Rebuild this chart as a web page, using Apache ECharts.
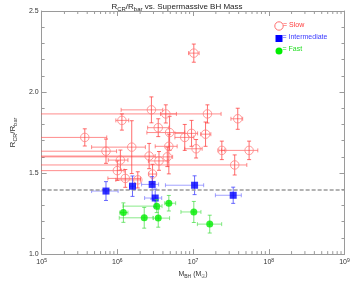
<!DOCTYPE html>
<html><head><meta charset="utf-8">
<script src="https://cdn.jsdelivr.net/npm/echarts@6/dist/echarts.min.js"></script>
<style>html,body{margin:0;padding:0;background:#fff}#c{width:354px;height:284px}</style>
</head><body><div id="c"></div>
<script>
// ---- Data (log10 M_BH in solar masses, R_CR/R_bar) ----
// Slow bars
const slowLogM  = [7.01, 6.45, 6.64, 7.19, 6.06, 7.59, 5.57, 6.54, 6.69, 6.98, 6.89, 7.165, 7.04, 6.68, 6.66, 6.55, 6.42, 7.38, 7.74, 7.55, 6.19, 5.85, 6.04, 6.00, 6.105, 6.27, 6.465];
const slowR     = [2.24, 1.89, 1.865, 1.865, 1.825, 1.835, 1.72, 1.78, 1.75, 1.745, 1.72, 1.74, 1.65, 1.665, 1.60, 1.575, 1.605, 1.64, 1.64, 1.55, 1.66, 1.635, 1.58, 1.515, 1.467, 1.458, 1.494];
const slowMLo   = [0.07, 0.40, 0.07, 3.0, 0.08, 0.09, 3.0, 0.14, 0.30, 0.22, 0.13, 0.065, 0.15, 0.18, 3.0, 0.14, 3.0, 0.04, 0.365, 3.0, 0.53, 3.0, 0.16, 3.0, 0.23, 0.29, 0.05];
const slowMHi   = [0.07, 0.15, 0.14, 0.18, 0.09, 0.065, 0.29, 0.14, 0.20, 0.08, 0.12, 0.07, 0.08, 0.11, 0.07, 0.12, 0.08, 0.04, 0.115, 0.16, 0.18, 0.14, 0.10, 0.09, 0.20, 0.035, 0.05];
const slowRLo   = [0.056, 0.08, 0.056, 0.056, 0.06, 0.065, 0.053, 0.055, 0.11, 0.08, 0.08, 0.075, 0.057, 0.17, 0.06, 0.058, 0.078, 0.057, 0.057, 0.062, 0.163, 0.075, 0.062, 0.06, 0.055, 0.05, 0.06];
const slowRHi   = [0.056, 0.08, 0.056, 0.056, 0.04, 0.065, 0.053, 0.055, 0.10, 0.08, 0.08, 0.075, 0.057, 0.075, 0.06, 0.058, 0.078, 0.057, 0.057, 0.062, 0.163, 0.075, 0.062, 0.06, 0.055, 0.05, 0.06];
// Intermediate bars
const interLogM = [5.85, 6.20, 6.46, 6.50, 7.02, 7.53];
const interR    = [1.389, 1.419, 1.43, 1.346, 1.425, 1.363];
const interMLo  = [0.19, 0.04, 0.14, 0.14, 0.385, 0.235];
const interMHi  = [0.16, 0.04, 0.085, 0.086, 0.12, 0.107];
const interRLo  = [0.058, 0.063, 0.09, 0.055, 0.058, 0.05];
const interRHi  = [0.058, 0.063, 0.048, 0.055, 0.058, 0.05];
// Fast bars
const fastLogM  = [6.08, 6.355, 6.52, 6.54, 6.68, 7.01, 7.22];
const fastR     = [1.256, 1.224, 1.296, 1.222, 1.314, 1.26, 1.185];
const fastMLo   = [0.05, 0.33, 0.445, 0.064, 0.055, 0.17, 0.163];
const fastMHi   = [0.06, 0.115, 0.07, 0.15, 0.09, 0.094, 0.158];
const fastRLo   = [0.06, 0.064, 0.04, 0.056, 0.048, 0.065, 0.055];
const fastRHi   = [0.06, 0.064, 0.04, 0.056, 0.048, 0.065, 0.055];
// Reference threshold
const thresholdR = 1.4;
// Axis ticks
const xDecades = [5, 6, 7, 8, 9];
const yTicks = [1.0, 1.5, 2.0, 2.5];

const FF = 'Liberation Sans, Arial, Helvetica, sans-serif';
const AX = '#9a9a9a';

function rows(m, r, mlo, mhi, rlo, rhi) {
  return m.map((v, i) => [v, r[i], mlo[i], mhi[i], rlo[i], rhi[i]]);
}
function errRender(colH, colV) {
  return function (params, api) {
    const L = api.value(0), R = api.value(1);
    const c = api.coord([L, R]);
    const xl = api.coord([L - api.value(2), R])[0];
    const xh = api.coord([L + api.value(3), R])[0];
    const yb = api.coord([L, R - api.value(4)])[1];
    const yt = api.coord([L, R + api.value(5)])[1];
    const cap = 2;
    const ln = (x1, y1, x2, y2, col) => ({ type: 'line', shape: { x1, y1, x2, y2 }, style: { stroke: col, lineWidth: 1 } });
    return { type: 'group', children: [
      ln(xl, c[1], xh, c[1], colH), ln(xl, c[1] - cap, xl, c[1] + cap, colH), ln(xh, c[1] - cap, xh, c[1] + cap, colH),
      ln(c[0], yt, c[0], yb, colV), ln(c[0] - cap, yt, c[0] + cap, yt, colV), ln(c[0] - cap, yb, c[0] + cap, yb, colV)
    ] };
  };
}
// minor log ticks positions (2..9 within each decade)
const minorX = [];
for (let i = 0; i < xDecades.length - 1; i++) for (let k = 2; k <= 9; k++) minorX.push([xDecades[i] + Math.log10(k)]);

const chart = echarts.init(document.getElementById('c'), null, { renderer: 'canvas' });
const subRich = { s: { fontSize: 6, verticalAlign: 'bottom', lineHeight: 6, fontFamily: FF, color: '#222' } };
chart.setOption({
  animation: false,
  backgroundColor: '#fff',
  title: {
    text: 'R{s|CR}/R{s|bar} vs. Supermassive BH Mass', left: 'center', top: -4,
    textStyle: { fontSize: 8, fontWeight: 'normal', color: '#222', fontFamily: FF, lineHeight: 11, rich: subRich }
  },
  grid: { left: 33.3, right: 9.5, top: 11, bottom: 25 },
  xAxis: [{
    type: 'value', min: 5, max: 9, interval: 1, position: 'bottom',
    axisLine: { show: true, onZero: false, lineStyle: { color: AX } },
    axisTick: { show: true, inside: true, length: 5, lineStyle: { color: AX } },
    splitLine: { show: false },
    axisLabel: { fontSize: 7, color: '#333', fontFamily: FF, margin: 4,
      formatter: v => '10{p|' + v + '}',
      rich: { p: { fontSize: 5, verticalAlign: 'top', lineHeight: 5, fontFamily: FF, color: '#333' } } },
    name: 'M{b|BH} (M{b|\u2609})', nameLocation: 'middle', nameGap: 14,
    nameTextStyle: { fontSize: 7, color: '#333', fontFamily: FF, lineHeight: 9,
      rich: { b: { fontSize: 5, verticalAlign: 'bottom', lineHeight: 5, fontFamily: FF, color: '#333' } } }
  }, {
    type: 'value', min: 5, max: 9, interval: 1, position: 'top',
    axisLine: { show: true, onZero: false, lineStyle: { color: AX } },
    axisTick: { show: true, inside: true, length: 5, lineStyle: { color: AX } },
    axisLabel: { show: false }, splitLine: { show: false }
  }],
  yAxis: [{
    type: 'value', min: 1, max: 2.5, interval: 0.5, position: 'left',
    axisLine: { show: true, onZero: false, lineStyle: { color: AX } },
    axisTick: { show: true, inside: true, length: 5, lineStyle: { color: AX } },
    minorTick: { show: true, splitNumber: 5, length: 3, lineStyle: { color: AX } },
    splitLine: { show: false },
    axisLabel: { fontSize: 7, color: '#333', fontFamily: FF, margin: 3, formatter: v => v.toFixed(1) },
    name: 'R{s|CR}/R{s|bar}', nameLocation: 'middle', nameGap: 12,
    nameTextStyle: { fontSize: 8, color: '#333', fontFamily: FF, lineHeight: 10,
      rich: { s: { fontSize: 5.5, verticalAlign: 'bottom', lineHeight: 5, fontFamily: FF, color: '#333' } } }
  }, {
    type: 'value', min: 1, max: 2.5, interval: 0.5, position: 'right',
    axisLine: { show: true, onZero: false, lineStyle: { color: AX } },
    axisTick: { show: true, inside: true, length: 5, lineStyle: { color: AX } },
    minorTick: { show: true, splitNumber: 5, length: 3, lineStyle: { color: AX } },
    axisLabel: { show: false }, splitLine: { show: false }
  }],
  series: [
    { type: 'custom', name: 'minorTicks', silent: true, data: minorX, z: 1,
      renderItem: (params, api) => {
        const x = api.coord([api.value(0), 1])[0];
        const cs = params.coordSys;
        const st = { stroke: AX, lineWidth: 1 };
        return { type: 'group', children: [
          { type: 'line', shape: { x1: x, y1: cs.y + cs.height, x2: x, y2: cs.y + cs.height - 3 }, style: st },
          { type: 'line', shape: { x1: x, y1: cs.y, x2: x, y2: cs.y + 3 }, style: st }
        ] };
      } },
    { type: 'custom', name: 'slowErr', clip: true, silent: true, z: 2,
      data: rows(slowLogM, slowR, slowMLo, slowMHi, slowRLo, slowRHi),
      renderItem: errRender('rgba(255,80,80,0.65)', 'rgba(255,60,60,0.75)'),
      markLine: { silent: true, symbol: ['none', 'none'], label: { show: false },
        lineStyle: { color: '#9a9a9a', type: [4, 2], width: 1.5 }, data: [{ yAxis: thresholdR }] } },
    { type: 'scatter', name: 'Slow', z: 3, symbol: 'circle', symbolSize: 8.5,
      itemStyle: { color: 'rgba(0,0,0,0)', borderColor: '#ff8080', borderWidth: 1 },
      data: slowLogM.map((v, i) => [v, slowR[i]]) },
    { type: 'custom', name: 'interErr', clip: true, silent: true, z: 4,
      data: rows(interLogM, interR, interMLo, interMHi, interRLo, interRHi),
      renderItem: errRender('rgba(110,110,255,0.65)', 'rgba(70,70,255,0.8)') },
    { type: 'scatter', name: 'Intermediate', z: 5, symbol: 'rect', symbolSize: 7,
      itemStyle: { color: '#0000ff' }, data: interLogM.map((v, i) => [v, interR[i]]) },
    { type: 'custom', name: 'fastErr', clip: true, silent: true, z: 6,
      data: rows(fastLogM, fastR, fastMLo, fastMHi, fastRLo, fastRHi),
      renderItem: errRender('rgba(60,220,60,0.6)', 'rgba(60,220,60,0.7)') },
    { type: 'scatter', name: 'Fast', z: 7, symbol: 'circle', symbolSize: 7,
      itemStyle: { color: '#00ee00' }, data: fastLogM.map((v, i) => [v, fastR[i]]) }
  ],
  graphic: [
    { type: 'circle', shape: { cx: 279, cy: 26, r: 4.2 }, style: { fill: 'none', stroke: '#ff7070', lineWidth: 1 } },
    { type: 'text', x: 283, y: 25.5, style: { text: '= Slow', fill: '#ff3b3b', font: '7px ' + FF, verticalAlign: 'middle' } },
    { type: 'rect', shape: { x: 275.5, y: 35, width: 7, height: 7 }, style: { fill: '#0000ff' } },
    { type: 'text', x: 282.5, y: 37.5, style: { text: '= Intermediate', fill: '#3b3bff', font: '7px ' + FF, verticalAlign: 'middle' } },
    { type: 'circle', shape: { cx: 279, cy: 51, r: 3.5 }, style: { fill: '#00ee00' } },
    { type: 'text', x: 282.5, y: 49.5, style: { text: '= Fast', fill: '#22dd22', font: '7px ' + FF, verticalAlign: 'middle' } }
  ]
});
</script></body></html>
